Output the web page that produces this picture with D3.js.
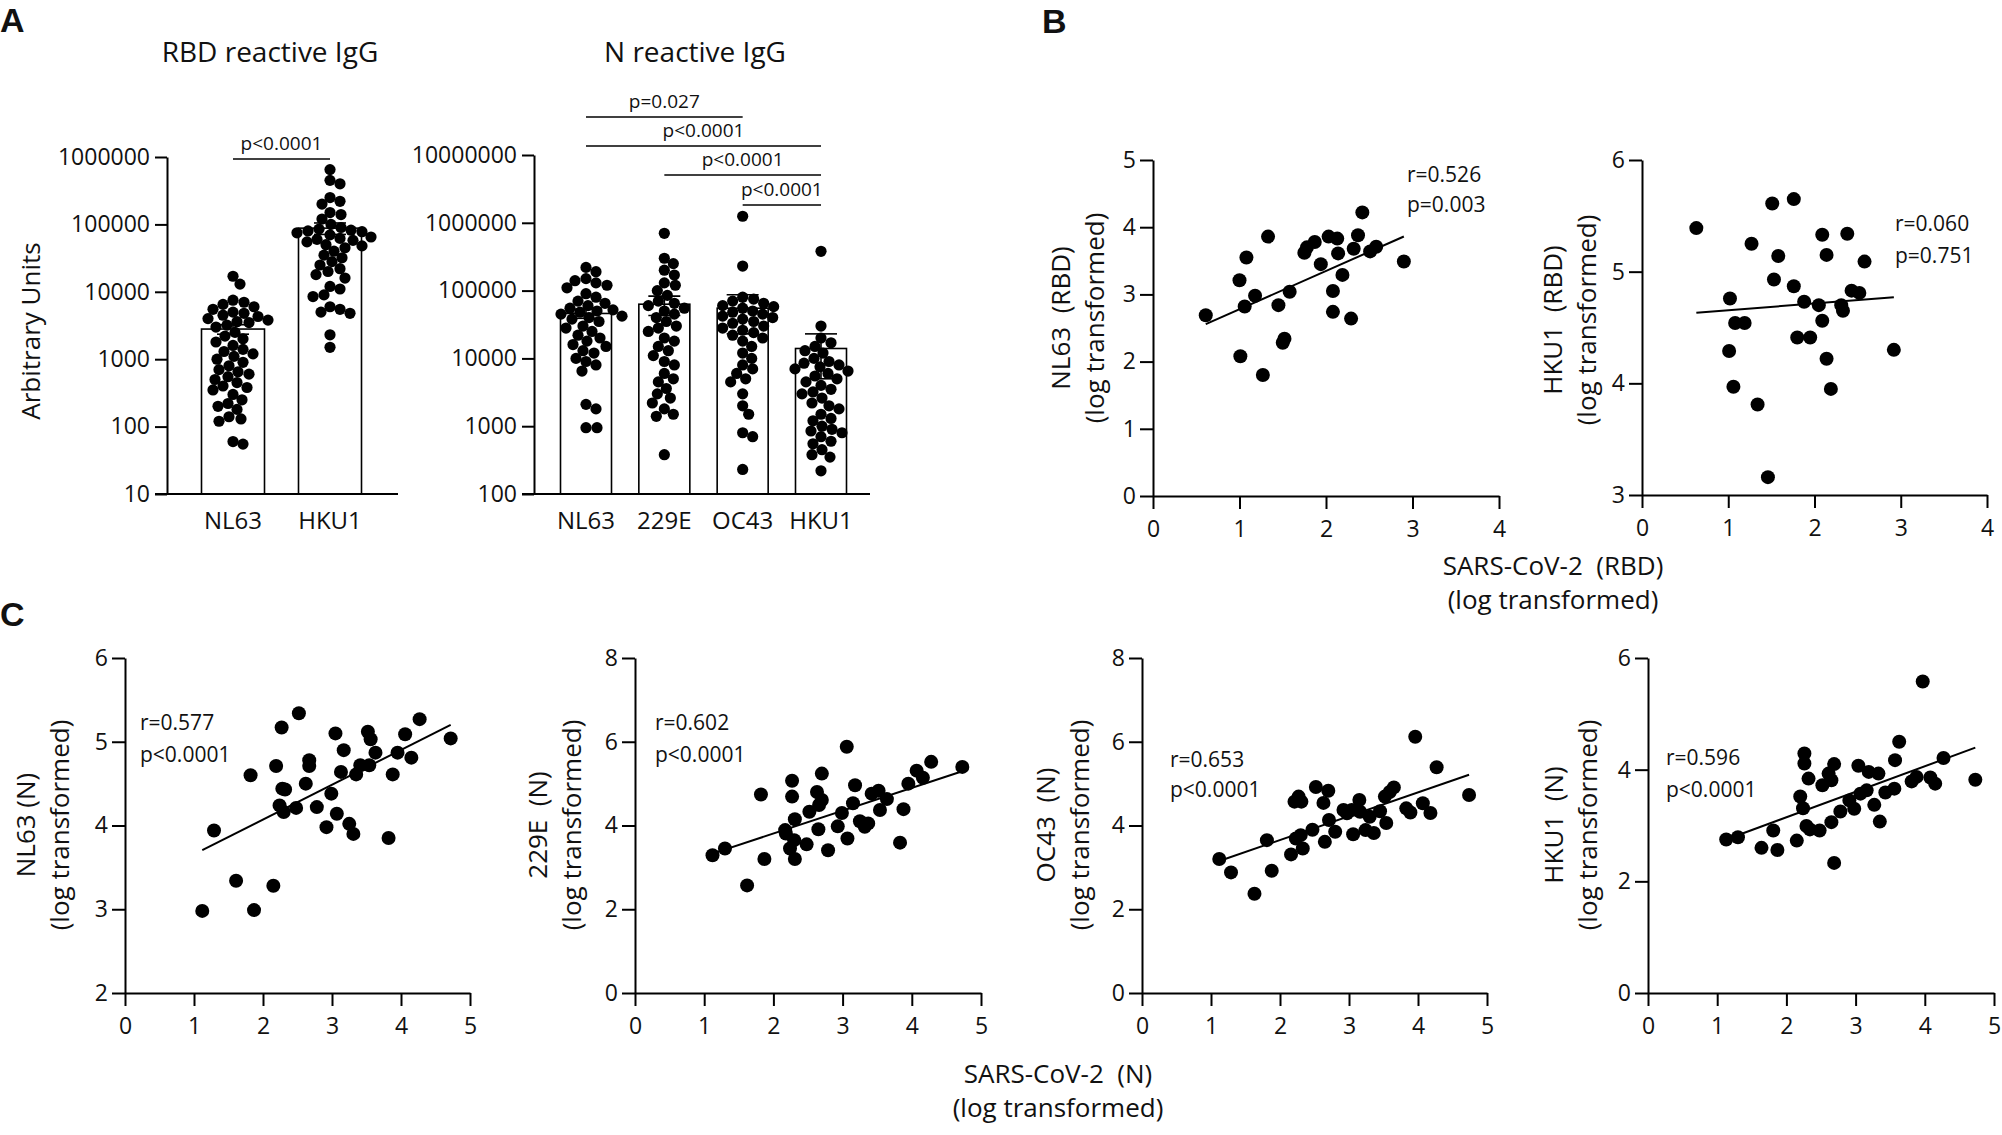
<!DOCTYPE html>
<html>
<head>
<meta charset="utf-8">
<script src="https://cdn.jsdelivr.net/npm/d3@7"></script>
<style>
  body { margin: 0; background: #fff; }
  text { font-family: "Open Sans", sans-serif; fill: #111; white-space: pre; }
  .panel-letter { font-family: "Liberation Sans", Arial, sans-serif; font-weight: bold; font-size: 34px; }
</style>
</head>
<body>
<svg width="2002" height="1135"></svg>
<script>
// ---------- data ----------
// A: RBD reactive IgG (arbitrary units)
const rbdGroups = ["NL63", "HKU1"];
const rbdMeans = [2800, 88000];
const rbdSem = [450, 17000];
const rbdNL63 = [17000, 13000, 7500, 7000, 6500, 6000, 5500, 5000, 4800, 4500, 4300, 4000, 3800, 3600, 3500,
  3200, 3000, 2500, 2200, 2000, 1800, 1600, 1400, 1300, 1200, 1100, 1000, 900, 800, 700, 650, 600, 550, 500,
  450, 400, 380, 350, 300, 250, 220, 200, 180, 140, 130, 120, 60, 55];
const rbdHKU1 = [650000, 450000, 400000, 250000, 220000, 200000, 150000, 140000, 120000, 100000, 90000, 85000,
  82000, 80000, 78000, 75000, 70000, 65000, 62000, 60000, 58000, 55000, 50000, 48000, 45000, 40000, 35000,
  32000, 28000, 25000, 22000, 20000, 18000, 16000, 12000, 11000, 9000, 8500, 6000, 5500, 5000, 4800, 2300, 1500];
const rbdTicks = [10, 100, 1000, 10000, 100000, 1000000];

// A: N reactive IgG
const nGroups = ["NL63", "229E", "OC43", "HKU1"];
const nMeans = [46000, 63000, 55000, 14000];
const nSem = [7000, 20000, 32000, 9000];
const nNL63 = [220000, 190000, 150000, 140000, 130000, 120000, 110000, 90000, 80000, 70000, 65000, 60000, 55000,
  52000, 50000, 48000, 45000, 42000, 40000, 38000, 35000, 30000, 28000, 25000, 22000, 20000, 18000, 16000, 15000,
  13000, 12000, 10000, 9000, 8000, 6500, 2100, 1800, 950, 950];
const n229E = [700000, 300000, 250000, 200000, 170000, 130000, 120000, 100000, 85000, 70000, 65000, 60000, 55000,
  50000, 45000, 40000, 35000, 30000, 28000, 25000, 20000, 18000, 15000, 13000, 11000, 9000, 8000, 6000, 5000,
  4500, 3600, 3000, 2600, 2200, 1800, 1500, 1400, 380];
const nOC43 = [1250000, 230000, 80000, 75000, 70000, 65000, 60000, 58000, 55000, 50000, 48000, 45000, 42000, 40000,
  38000, 35000, 33000, 30000, 28000, 26000, 24000, 22000, 20000, 18000, 15000, 12000, 10000, 8000, 7000, 6000,
  5000, 4500, 3000, 2000, 1500, 800, 700, 230];
const nHKU1 = [380000, 30000, 20000, 17000, 15000, 13000, 12000, 10000, 9000, 8500, 8000, 7500, 7000, 6500, 6000,
  5500, 5000, 4500, 4000, 3500, 3200, 3000, 2600, 2200, 2000, 1800, 1500, 1300, 1200, 1000, 900, 850, 800, 700,
  600, 550, 450, 380, 350, 220];
const nTicks = [100, 1000, 10000, 100000, 1000000, 10000000];
const nComparisons = [["NL63", "OC43", "p=0.027"], ["NL63", "HKU1", "p<0.0001"],
  ["229E", "HKU1", "p<0.0001"], ["OC43", "HKU1", "p<0.0001"]];

// B: SARS-CoV-2 RBD vs seasonal CoV RBD (log transformed)
const bNL63x = [0.61, 1.00, 1.08, 1.06, 1.01, 1.18, 1.33, 1.27, 1.45, 1.50, 1.52, 1.58, 1.75, 1.78, 1.87, 1.94, 2.03,
  2.13, 2.14, 2.19, 2.08, 2.08, 2.29, 2.32, 2.37, 2.42, 2.51, 2.58, 2.90];
const bNL63y = [2.69, 3.21, 3.55, 2.82, 2.08, 2.98, 3.86, 1.80, 2.84, 2.28, 2.34, 3.04, 3.62, 3.70, 3.78, 3.45, 3.86,
  3.83, 3.61, 3.29, 3.05, 2.74, 2.64, 3.68, 3.88, 4.22, 3.64, 3.71, 3.49];
const bHKU1x = [0.63, 1.02, 1.01, 1.06, 1.08, 1.19, 1.27, 1.34, 1.46, 1.51, 1.53, 1.58, 1.76, 1.76, 1.80, 1.88, 1.95,
  2.05, 2.09, 2.14, 2.09, 2.14, 2.19, 2.31, 2.33, 2.38, 2.43, 2.52, 2.58, 2.92];
const bHKU1y = [5.39, 4.76, 4.29, 3.97, 4.54, 4.54, 5.25, 3.81, 3.16, 5.61, 4.93, 5.14, 5.65, 4.87, 4.41, 4.73, 4.41,
  4.70, 5.33, 5.15, 4.56, 4.22, 3.95, 4.70, 4.65, 5.34, 4.83, 4.81, 5.09, 4.30];

// C: SARS-CoV-2 N vs seasonal CoV N (log transformed)
const cNL63x = [1.12, 1.29, 1.61, 1.82, 1.87, 2.15, 2.19, 2.27, 2.24, 2.28, 2.32, 2.30, 2.48, 2.52, 2.62, 2.67, 2.67,
  2.78, 2.92, 2.99, 3.05, 3.07, 3.13, 3.17, 3.25, 3.31, 3.35, 3.41, 3.52, 3.54, 3.56, 3.63, 3.82, 3.88, 3.95, 4.06,
  4.15, 4.27, 4.72];
const cNL63y = [2.98, 3.94, 3.34, 4.60, 2.99, 3.28, 4.71, 5.17, 4.24, 4.44, 4.43, 4.16, 4.21, 5.34, 4.50, 4.78, 4.71,
  4.22, 3.98, 4.38, 5.10, 4.14, 4.64, 4.90, 4.02, 3.90, 4.61, 4.72, 5.12, 4.72, 5.03, 4.87, 3.85, 4.61, 4.87, 5.09,
  4.81, 5.27, 5.04];
const c229Ex = [1.12, 1.30, 1.62, 1.82, 1.87, 2.17, 2.18, 2.27, 2.27, 2.24, 2.30, 2.31, 2.31, 2.48, 2.52, 2.63, 2.65,
  2.66, 2.70, 2.70, 2.79, 2.93, 2.99, 3.06, 3.07, 3.15, 3.18, 3.25, 3.32, 3.37, 3.42, 3.52, 3.54, 3.64, 3.83, 3.88,
  3.95, 4.07, 4.16, 4.28, 4.73];
const c229Ey = [3.29, 3.45, 2.57, 4.74, 3.20, 3.89, 3.81, 5.07, 4.69, 3.45, 3.65, 4.15, 3.20, 3.55, 4.33, 4.80, 3.91,
  4.49, 5.24, 4.61, 3.41, 3.98, 4.30, 5.88, 3.69, 4.53, 4.96, 4.10, 3.97, 4.05, 4.76, 4.83, 4.37, 4.63, 3.59, 4.39,
  5.00, 5.31, 5.14, 5.52, 5.40];
const cOC43x = [1.12, 1.29, 1.63, 1.81, 1.88, 2.16, 2.21, 2.27, 2.31, 2.23, 2.30, 2.33, 2.47, 2.52, 2.63, 2.65, 2.70,
  2.71, 2.80, 2.92, 2.97, 3.06, 3.04, 3.15, 3.16, 3.24, 3.30, 3.36, 3.45, 3.54, 3.52, 3.59, 3.65, 3.83, 3.89, 3.96,
  4.07, 4.18, 4.27, 4.74];
const cOC43y = [3.20, 2.88, 2.37, 3.65, 2.92, 3.31, 4.57, 4.69, 4.57, 3.69, 3.77, 3.45, 3.90, 4.92, 4.54, 3.61, 4.83,
  4.13, 3.85, 4.37, 4.29, 3.79, 4.37, 4.61, 4.33, 3.89, 4.21, 3.82, 4.34, 4.06, 4.69, 4.80, 4.91, 4.41, 4.31, 6.12,
  4.53, 4.30, 5.39, 4.73];
const cHKU1x = [1.13, 1.30, 1.64, 1.81, 1.87, 2.15, 2.20, 2.24, 2.26, 2.26, 2.32, 2.29, 2.34, 2.48, 2.52, 2.61, 2.65,
  2.65, 2.69, 2.69, 2.78, 2.91, 2.98, 3.04, 3.07, 3.16, 3.19, 3.27, 3.33, 3.35, 3.43, 3.56, 3.57, 3.63, 3.81, 3.88,
  3.97, 4.08, 4.15, 4.27, 4.73];
const cHKU1y = [2.75, 2.79, 2.60, 2.91, 2.56, 2.73, 3.52, 3.31, 4.29, 4.11, 3.84, 2.99, 2.93, 2.91, 3.72, 3.93, 3.81,
  3.06, 4.10, 2.33, 3.25, 3.45, 3.30, 4.07, 3.57, 3.63, 3.96, 3.37, 3.93, 3.07, 3.59, 3.66, 4.17, 4.50, 3.79, 3.87,
  5.58, 3.86, 3.75, 4.21, 3.82];

// ---------- drawing ----------
const svg = d3.select("svg");
svg.append("rect").attr("width", 2002).attr("height", 1135).attr("fill", "#fff");

function styleAxis(g, fontSize) {
  g.select(".domain").attr("stroke", "#000").attr("stroke-width", 2);
  g.selectAll(".tick line").attr("stroke", "#000").attr("stroke-width", 2);
  g.selectAll(".tick text").attr("fill", "#111").style("font-size", fontSize + "px")
    .style("font-family", "'Open Sans', sans-serif");
}

// simple beeswarm: place each dot as close to the centre line as it can go
function swarm(vals, y, r) {
  const pts = vals.map(v => ({ v: v, y: y(v) })).sort((a, b) => a.y - b.y);
  const placed = [];
  pts.forEach(p => {
    for (let k = 0; k < 200; k++) {
      const off = (k % 2 ? 1 : -1) * Math.ceil(k / 2);
      const ok = placed.every(q => (q.dx - off) ** 2 + (q.y - p.y) ** 2 >= (2 * r * 0.92) ** 2);
      if (ok) { p.dx = off; break; }
    }
    placed.push(p);
  });
  return placed;
}

function barPanel(o) {
  const g = svg.append("g");
  const y = d3.scaleLog().domain(o.domain).range([494, o.top]);
  const x = d3.scalePoint().domain(o.groups).range(o.centers);

  // bars
  g.selectAll(".bar").data(o.groups).enter().append("rect")
    .attr("x", d => x(d) - o.bw / 2)
    .attr("width", o.bw)
    .attr("y", (d, i) => y(o.means[i]))
    .attr("height", (d, i) => 494 - y(o.means[i]))
    .attr("fill", "#fff").attr("stroke", "#000").attr("stroke-width", 1.6);

  // error bars (mean +/- SEM)
  o.groups.forEach((grp, i) => {
    const cx = x(grp), lo = y(o.means[i] - o.sems[i]), hi = y(o.means[i] + o.sems[i]);
    g.append("line").attr("x1", cx).attr("x2", cx).attr("y1", lo).attr("y2", hi)
      .attr("stroke", "#000").attr("stroke-width", 1.6);
    [lo, hi].forEach(yy => g.append("line").attr("x1", cx - 16).attr("x2", cx + 16)
      .attr("y1", yy).attr("y2", yy).attr("stroke", "#000").attr("stroke-width", 1.6));
  });

  // dots
  o.groups.forEach((grp, i) => {
    const pts = swarm(o.points[i], y, 5.6);
    g.selectAll(null).data(pts).enter().append("circle")
      .attr("cx", d => x(grp) + d.dx).attr("cy", d => d.y).attr("r", 5.6).attr("fill", "#000");
  });

  // axes
  const ya = g.append("g").attr("transform", "translate(" + o.x0 + ",0)")
    .call(d3.axisLeft(y).tickValues(o.ticks).tickFormat(d3.format("d")).tickSize(12).tickPadding(5).tickSizeOuter(0));
  styleAxis(ya, 23);
  g.append("line").attr("x1", o.x0 - 12).attr("x2", o.xEnd).attr("y1", 494).attr("y2", 494)
    .attr("stroke", "#000").attr("stroke-width", 2);

  g.selectAll(".cat").data(o.groups).enter().append("text")
    .attr("x", d => x(d)).attr("y", 529).attr("text-anchor", "middle")
    .style("font-size", "24px").text(d => d);

  g.append("text").attr("x", o.titleX).attr("y", 62).attr("text-anchor", "middle")
    .style("font-size", "28px").text(o.title);

  // significance brackets
  o.brackets.forEach(b => {
    const x1 = x(b[0]), x2 = x(b[1]);
    g.append("line").attr("x1", x1).attr("x2", x2).attr("y1", b[3]).attr("y2", b[3])
      .attr("stroke", "#000").attr("stroke-width", 1.6);
    g.append("text").attr("x", (x1 + x2) / 2).attr("y", b[3] - 9).attr("text-anchor", "middle")
      .style("font-size", "19px").text(b[2]);
  });
  return { x: x, y: y };
}

barPanel({
  groups: rbdGroups, means: rbdMeans, sems: rbdSem, points: [rbdNL63, rbdHKU1],
  domain: [10, 1000000], top: 157, ticks: rbdTicks, centers: [233, 330], bw: 63,
  x0: 167, xEnd: 398, title: "RBD reactive IgG", titleX: 270,
  brackets: [["NL63", "HKU1", "p<0.0001", 159]]
});

barPanel({
  groups: nGroups, means: nMeans, sems: nSem, points: [nNL63, n229E, nOC43, nHKU1],
  domain: [100, 10000000], top: 155, ticks: nTicks, centers: [586, 821], bw: 51,
  x0: 534, xEnd: 870, title: "N reactive IgG", titleX: 695,
  brackets: nComparisons.map((c, i) => [c[0], c[1], c[2], [117, 146, 175, 205][i]])
});

svg.append("text").attr("x", 40).attr("y", 331).attr("transform", "rotate(-90,40,331)")
  .attr("text-anchor", "middle").style("font-size", "26px").text("Arbitrary Units");

// scatter panels with linear regression
function scatterPanel(o) {
  const g = svg.append("g");
  const x = d3.scaleLinear().domain(o.xd).range([o.x0, o.x1]);
  const y = d3.scaleLinear().domain(o.yd).range([o.y0, o.y1]);

  const xa = g.append("g").attr("transform", "translate(0," + o.y0 + ")")
    .call(d3.axisBottom(x).tickValues(o.xt).tickFormat(d3.format("d")).tickSize(13).tickPadding(12).tickSizeOuter(0));
  styleAxis(xa, 23);
  const ya = g.append("g").attr("transform", "translate(" + o.x0 + ",0)")
    .call(d3.axisLeft(y).tickValues(o.yt).tickFormat(d3.format("d")).tickSize(13).tickPadding(4).tickSizeOuter(0));
  styleAxis(ya, 23);

  const pts = o.xs.map((v, i) => [v, o.ys[i]]);
  g.selectAll(null).data(pts).enter().append("circle")
    .attr("cx", d => x(d[0])).attr("cy", d => y(d[1])).attr("r", 7).attr("fill", "#000");

  // least-squares fit drawn over the x range of the data
  const mx = d3.mean(o.xs), my = d3.mean(o.ys);
  const slope = d3.sum(pts, d => (d[0] - mx) * (d[1] - my)) / d3.sum(pts, d => (d[0] - mx) ** 2);
  const ext = d3.extent(o.xs);
  g.append("line")
    .attr("x1", x(ext[0])).attr("y1", y(my + slope * (ext[0] - mx)))
    .attr("x2", x(ext[1])).attr("y2", y(my + slope * (ext[1] - mx)))
    .attr("stroke", "#000").attr("stroke-width", 2);

  g.append("text").attr("x", o.statX).attr("y", o.statY).style("font-size", "21px").text(o.r);
  g.append("text").attr("x", o.statX).attr("y", o.statY + o.statGap).style("font-size", "21px").text(o.p);

  const lab = g.append("text").attr("transform", "translate(" + o.labX + "," + o.labY + ") rotate(-90)")
    .attr("text-anchor", "middle").style("font-size", "26px");
  lab.append("tspan").attr("x", 0).attr("y", 0).text(o.label);
  lab.append("tspan").attr("x", 0).attr("y", 34).text("(log transformed)");
}

scatterPanel({ xs: bNL63x, ys: bNL63y, xd: [0, 4], yd: [0, 5], x0: 1153, x1: 1499, y0: 496, y1: 160,
  xt: [0, 1, 2, 3, 4], yt: [0, 1, 2, 3, 4, 5], r: "r=0.526", p: "p=0.003", statX: 1407, statY: 182, statGap: 30,
  label: "NL63  (RBD)", labX: 1070, labY: 318 });
scatterPanel({ xs: bHKU1x, ys: bHKU1y, xd: [0, 4], yd: [3, 6], x0: 1642, x1: 1987, y0: 495, y1: 160,
  xt: [0, 1, 2, 3, 4], yt: [3, 4, 5, 6], r: "r=0.060", p: "p=0.751", statX: 1895, statY: 231, statGap: 32,
  label: "HKU1  (RBD)", labX: 1562, labY: 320 });

scatterPanel({ xs: cNL63x, ys: cNL63y, xd: [0, 5], yd: [2, 6], x0: 125, x1: 470, y0: 993, y1: 658,
  xt: [0, 1, 2, 3, 4, 5], yt: [2, 3, 4, 5, 6], r: "r=0.577", p: "p<0.0001", statX: 140, statY: 730, statGap: 32,
  label: "NL63 (N)", labX: 35, labY: 825 });
scatterPanel({ xs: c229Ex, ys: c229Ey, xd: [0, 5], yd: [0, 8], x0: 635, x1: 981, y0: 993, y1: 658,
  xt: [0, 1, 2, 3, 4, 5], yt: [0, 2, 4, 6, 8], r: "r=0.602", p: "p<0.0001", statX: 655, statY: 730, statGap: 32,
  label: "229E  (N)", labX: 547, labY: 825 });
scatterPanel({ xs: cOC43x, ys: cOC43y, xd: [0, 5], yd: [0, 8], x0: 1142, x1: 1487, y0: 993, y1: 658,
  xt: [0, 1, 2, 3, 4, 5], yt: [0, 2, 4, 6, 8], r: "r=0.653", p: "p<0.0001", statX: 1170, statY: 767, statGap: 30,
  label: "OC43  (N)", labX: 1055, labY: 825 });
scatterPanel({ xs: cHKU1x, ys: cHKU1y, xd: [0, 5], yd: [0, 6], x0: 1648, x1: 1994, y0: 993, y1: 658,
  xt: [0, 1, 2, 3, 4, 5], yt: [0, 2, 4, 6], r: "r=0.596", p: "p<0.0001", statX: 1666, statY: 765, statGap: 32,
  label: "HKU1  (N)", labX: 1563, labY: 825 });

// shared x-axis titles
[[1553, 575, "SARS-CoV-2  (RBD)"], [1058, 1083, "SARS-CoV-2  (N)"]].forEach(t => {
  const tx = svg.append("text").attr("text-anchor", "middle").style("font-size", "26px");
  tx.append("tspan").attr("x", t[0]).attr("y", t[1]).text(t[2]);
  tx.append("tspan").attr("x", t[0]).attr("y", t[1] + 34).text("(log transformed)");
});

// panel letters
[["A", 0, 32], ["B", 1042, 33], ["C", 0, 626]].forEach(l => {
  svg.append("text").attr("class", "panel-letter").attr("x", l[1]).attr("y", l[2]).text(l[0]);
});
</script>
</body>
</html>
